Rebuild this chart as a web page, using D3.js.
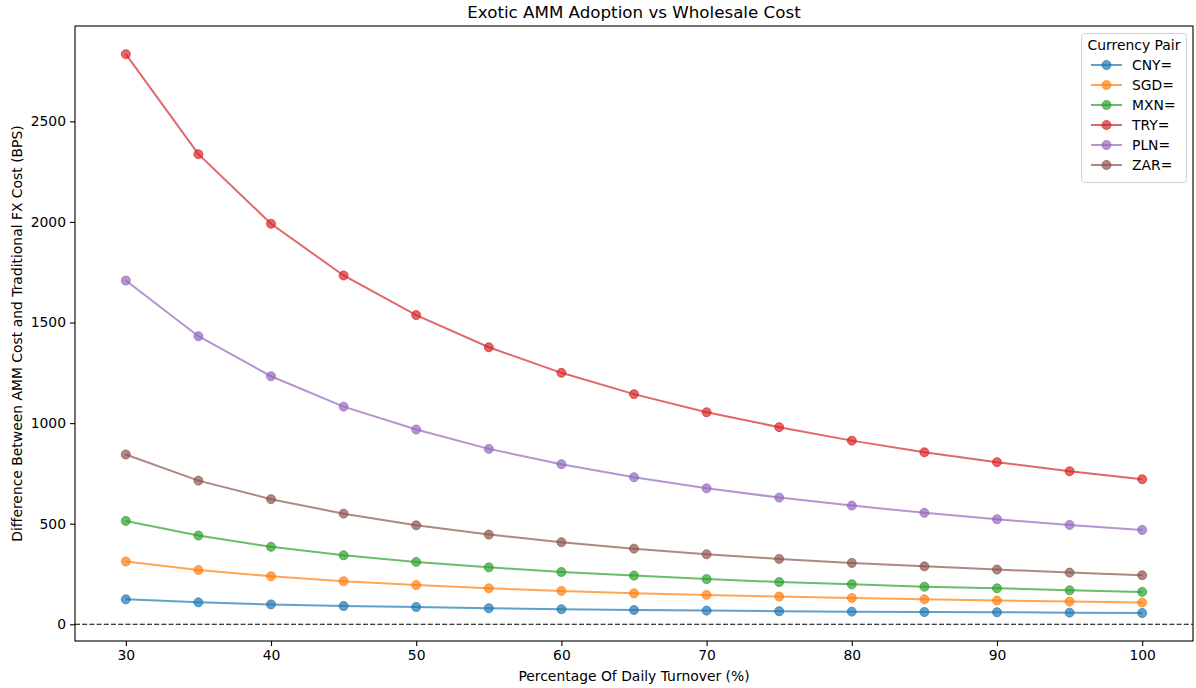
<!DOCTYPE html>
<html>
<head>
<meta charset="utf-8">
<script src="https://cdn.jsdelivr.net/npm/d3@7"></script>
<style>
  body { margin: 0; background: #fff; }
  svg { display: block; font-family: "DejaVu Sans", sans-serif; }
</style>
</head>
<body>
<svg id="chart" width="1196" height="688"></svg>
<script>
const turnover = [30, 35, 40, 45, 50, 55, 60, 65, 70, 75, 80, 85, 90, 95, 100];
const seriesNames = ["CNY=", "SGD=", "MXN=", "TRY=", "PLN=", "ZAR="];
const CNY = [124, 109, 99, 91, 86, 80, 75, 71, 68, 65, 63, 61, 60, 58, 56];
const SGD = [312, 270, 239, 214, 195, 179, 166, 154, 146, 138, 131, 124, 118, 113, 108];
const MXN = [514, 441, 385, 343, 310, 283, 260, 242, 225, 210, 199, 187, 179, 169, 161];
const TRY = [2834, 2337, 1991, 1734, 1537, 1377, 1250, 1144, 1054, 980, 913, 855, 806, 761, 721];
const PLN = [1709, 1432, 1233, 1082, 968, 872, 796, 731, 676, 630, 590, 554, 522, 494, 469];
const ZAR = [844, 714, 622, 550, 492, 446, 408, 376, 348, 325, 305, 288, 272, 257, 244];
const seriesValues = [CNY, SGD, MXN, TRY, PLN, ZAR];
const colors = ["#1f77b4", "#ff7f0e", "#2ca02c", "#d62728", "#9467bd", "#8c564b"];
const xTicks = [30, 40, 50, 60, 70, 80, 90, 100];
const yTicks = [0, 500, 1000, 1500, 2000, 2500];

const svg = d3.select("#chart");
const m = { left: 75, right: 1193, top: 26, bottom: 641 };

const x = d3.scaleLinear().domain([26.5, 103.5]).range([m.left, m.right]);
const y = d3.scaleLinear().domain([-83, 2974]).range([m.bottom, m.top]);

// zero reference line
svg.append("line")
  .attr("x1", m.left).attr("x2", m.right)
  .attr("y1", y(0)).attr("y2", y(0))
  .attr("stroke", "#000").attr("stroke-width", 1.1)
  .attr("stroke-dasharray", "5,2.2");

const line = d3.line().x((d, i) => x(turnover[i])).y(d => y(d));

seriesValues.forEach((vals, si) => {
  const g = svg.append("g");
  g.append("path").datum(vals)
    .attr("d", line)
    .attr("fill", "none")
    .attr("stroke", colors[si])
    .attr("stroke-width", 2)
    .attr("stroke-opacity", 0.7);
  g.selectAll("circle").data(vals).join("circle")
    .attr("cx", (d, i) => x(turnover[i]))
    .attr("cy", d => y(d))
    .attr("r", 4.5)
    .attr("fill", colors[si])
    .attr("fill-opacity", 0.7)
    .attr("stroke", colors[si])
    .attr("stroke-opacity", 0.7)
    .attr("stroke-width", 1);
});

// axes
const xAxis = svg.append("g").attr("transform", `translate(0,${m.bottom})`)
  .call(d3.axisBottom(x).tickValues(xTicks).tickSize(5).tickPadding(4).tickFormat(d3.format("d")));
const yAxis = svg.append("g").attr("transform", `translate(${m.left},0)`)
  .call(d3.axisLeft(y).tickValues(yTicks).tickSize(5).tickPadding(4).tickFormat(d3.format("d")));
[xAxis, yAxis].forEach(a => {
  a.select(".domain").remove();
  a.selectAll("text").attr("font-size", 13.9).attr("fill", "#000").attr("font-family", "DejaVu Sans");
  a.selectAll("line").attr("stroke", "#000").attr("stroke-width", 1.1);
});

// frame
svg.append("rect")
  .attr("x", m.left).attr("y", m.top)
  .attr("width", m.right - m.left).attr("height", m.bottom - m.top)
  .attr("fill", "none").attr("stroke", "#000").attr("stroke-width", 1.1);

// title and labels
svg.append("text").attr("x", (m.left + m.right) / 2).attr("y", 18)
  .attr("text-anchor", "middle").attr("font-size", 16.7).attr("fill", "#000")
  .text("Exotic AMM Adoption vs Wholesale Cost");
svg.append("text").attr("x", (m.left + m.right) / 2).attr("y", 681)
  .attr("text-anchor", "middle").attr("font-size", 13.9).attr("fill", "#000")
  .text("Percentage Of Daily Turnover (%)");
svg.append("text")
  .attr("transform", `translate(22,${(m.top + m.bottom) / 2}) rotate(-90)`)
  .attr("text-anchor", "middle").attr("font-size", 13.9).attr("fill", "#000")
  .text("Difference Between AMM Cost and Traditional FX Cost (BPS)");

// legend
const lg = svg.append("g");
lg.append("rect").attr("x", 1081.5).attr("y", 33.5).attr("width", 105).attr("height", 149)
  .attr("rx", 3).attr("fill", "#fff").attr("fill-opacity", 0.8)
  .attr("stroke", "#d0d0d0").attr("stroke-width", 1);
lg.append("text").attr("x", 1134).attr("y", 50).attr("text-anchor", "middle")
  .attr("font-size", 13.9).attr("fill", "#000").text("Currency Pair");
seriesNames.forEach((name, i) => {
  const yy = 65 + i * 20;
  lg.append("line").attr("x1", 1091).attr("x2", 1122).attr("y1", yy).attr("y2", yy)
    .attr("stroke", colors[i]).attr("stroke-width", 2).attr("stroke-opacity", 0.7);
  lg.append("circle").attr("cx", 1106.5).attr("cy", yy).attr("r", 4.5)
    .attr("fill", colors[i]).attr("fill-opacity", 0.7)
    .attr("stroke", colors[i]).attr("stroke-opacity", 0.7);
  lg.append("text").attr("x", 1132).attr("y", yy + 5)
    .attr("font-size", 13.9).attr("fill", "#000").text(name);
});
</script>
</body>
</html>
